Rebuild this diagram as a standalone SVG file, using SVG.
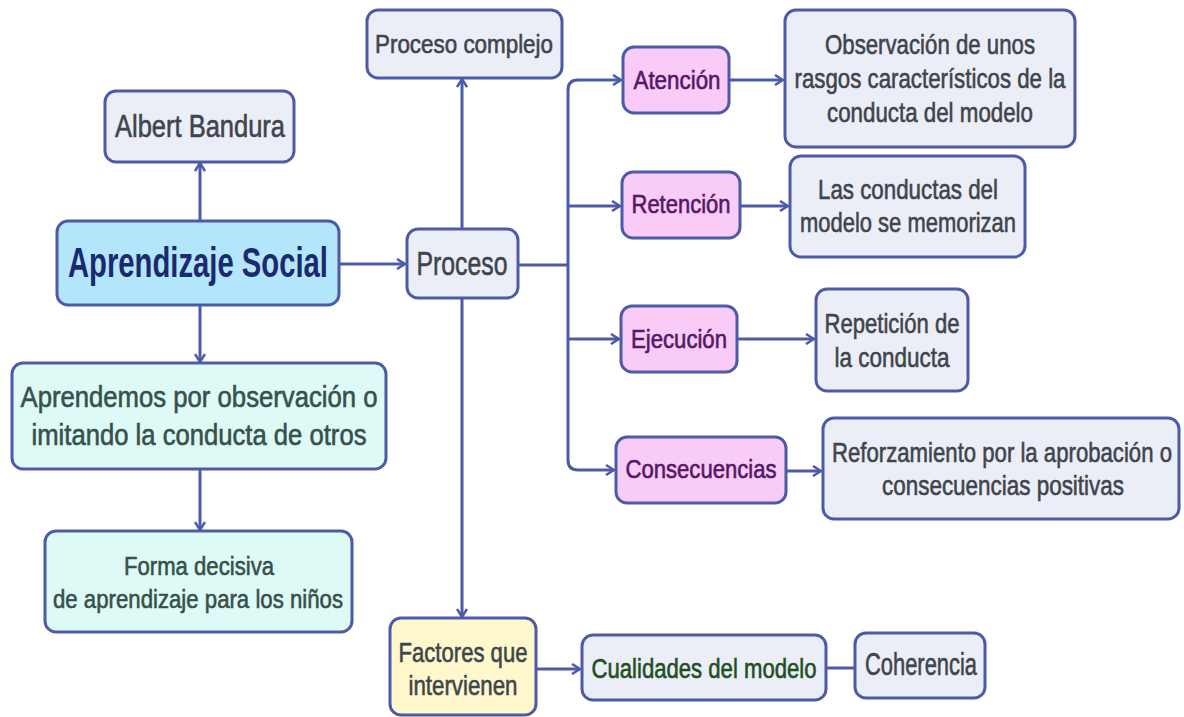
<svg xmlns="http://www.w3.org/2000/svg" width="1184" height="717" viewBox="0 0 1184 717">
<style>
.n{stroke:#4d5aa8;stroke-width:3}
.g{fill:#eceef7}
.p{fill:#f9cbf7}
.b{fill:#b3e5fb}
.c{fill:#defaf6}
.y{fill:#fff8cc}
text{font-family:"Liberation Sans Narrow","Liberation Sans",Arial,sans-serif;text-anchor:middle;stroke-width:0.6}
.tg{fill:#3e454c;stroke:#3e454c;font-size:28px}
.tp{fill:#561766;stroke:#561766;font-size:26px}
.tc{fill:#37504b;stroke:#37504b;font-size:29px}
.e{fill:none;stroke:#4d5aa8;stroke-width:3}
</style>
<defs>
<marker id="ar" viewBox="0 0 10 12" refX="9" refY="6" markerWidth="10" markerHeight="12" markerUnits="userSpaceOnUse" orient="auto">
<path d="M1,1 L9,6 L1,11" fill="none" stroke="#4d5aa8" stroke-width="2.5"/>
</marker>
</defs>
<g id="connectors">
<path class="e" d="M200,221 V163" marker-end="url(#ar)"/>
<path class="e" d="M200,306 V362" marker-end="url(#ar)"/>
<path class="e" d="M200,470 V530" marker-end="url(#ar)"/>
<path class="e" d="M339,264 H405" marker-end="url(#ar)"/>
<path class="e" d="M462,229 V79" marker-end="url(#ar)"/>
<path class="e" d="M462,298 V617" marker-end="url(#ar)"/>
<path class="e" d="M518,265 H568"/>
<path class="e" d="M568,265 V90 Q568,80 578,80 H621" marker-end="url(#ar)"/>
<path class="e" d="M568,206 H620" marker-end="url(#ar)"/>
<path class="e" d="M568,339 H619" marker-end="url(#ar)"/>
<path class="e" d="M568,265 V460 Q568,470 578,470 H614" marker-end="url(#ar)"/>
<path class="e" d="M729,80 H783" marker-end="url(#ar)"/>
<path class="e" d="M740,206 H788" marker-end="url(#ar)"/>
<path class="e" d="M737,339 H814" marker-end="url(#ar)"/>
<path class="e" d="M786,471 H821" marker-end="url(#ar)"/>
<path class="e" d="M536,669 H580" marker-end="url(#ar)"/>
<path class="e" d="M826,668 H855"/>
</g>
<g id="albert"><rect class="n g" x="105" y="91" width="189" height="71" rx="11"/><text class="tg" x="200" y="137" style="font-size:31px" textLength="170" lengthAdjust="spacingAndGlyphs">Albert Bandura</text></g>
<g id="aprendizaje"><rect class="n b" x="57" y="221" width="282" height="84" rx="11"/><text x="198" y="277" style="font-size:42px;font-weight:bold;fill:#1a2a6c;stroke:none" textLength="260" lengthAdjust="spacingAndGlyphs">Aprendizaje Social</text></g>
<g id="aprendemos"><rect class="n c" x="12" y="363" width="374" height="106" rx="11"/><text class="tc" x="199" y="407" textLength="357" lengthAdjust="spacingAndGlyphs">Aprendemos por observación o</text><text class="tc" x="199" y="445" textLength="335" lengthAdjust="spacingAndGlyphs">imitando la conducta de otros</text></g>
<g id="forma"><rect class="n c" x="45" y="531" width="307" height="101" rx="11"/><text class="tc" x="199" y="575" style="font-size:26px" textLength="150" lengthAdjust="spacingAndGlyphs">Forma decisiva</text><text class="tc" x="198" y="608" style="font-size:26px" textLength="290" lengthAdjust="spacingAndGlyphs">de aprendizaje para los niños</text></g>
<g id="complejo"><rect class="n g" x="367" y="10" width="195" height="68" rx="11"/><text class="tg" x="464" y="53" style="font-size:26px" textLength="178" lengthAdjust="spacingAndGlyphs">Proceso complejo</text></g>
<g id="proceso"><rect class="n g" x="407" y="229" width="111" height="69" rx="11"/><text class="tg" x="462" y="275" style="font-size:34px" textLength="91" lengthAdjust="spacingAndGlyphs">Proceso</text></g>
<g id="atencion"><rect class="n p" x="623" y="47" width="106" height="66" rx="11"/><text class="tp" x="677" y="89" textLength="87" lengthAdjust="spacingAndGlyphs">Atención</text></g>
<g id="retencion"><rect class="n p" x="622" y="172" width="118" height="66" rx="11"/><text class="tp" x="681" y="213" textLength="99" lengthAdjust="spacingAndGlyphs">Retención</text></g>
<g id="ejecucion"><rect class="n p" x="621" y="306" width="116" height="66" rx="11"/><text class="tp" x="679" y="348" textLength="96" lengthAdjust="spacingAndGlyphs">Ejecución</text></g>
<g id="consecuencias"><rect class="n p" x="616" y="437" width="170" height="66" rx="11"/><text class="tp" x="701" y="478" textLength="151" lengthAdjust="spacingAndGlyphs">Consecuencias</text></g>
<g id="observacion"><rect class="n g" x="785" y="10" width="290" height="137" rx="11"/><text class="tg" x="930" y="54" textLength="210" lengthAdjust="spacingAndGlyphs">Observación de unos</text><text class="tg" x="930" y="88" textLength="271" lengthAdjust="spacingAndGlyphs">rasgos característicos de la</text><text class="tg" x="930" y="122" textLength="206" lengthAdjust="spacingAndGlyphs">conducta del modelo</text></g>
<g id="memorizan"><rect class="n g" x="790" y="156" width="235" height="101" rx="11"/><text class="tg" x="908" y="199" textLength="180" lengthAdjust="spacingAndGlyphs">Las conductas del</text><text class="tg" x="908" y="232" textLength="216" lengthAdjust="spacingAndGlyphs">modelo se memorizan</text></g>
<g id="repeticion"><rect class="n g" x="816" y="289" width="152" height="102" rx="11"/><text class="tg" x="892" y="333" textLength="135" lengthAdjust="spacingAndGlyphs">Repetición de</text><text class="tg" x="892" y="367" textLength="115" lengthAdjust="spacingAndGlyphs">la conducta</text></g>
<g id="reforzamiento"><rect class="n g" x="823" y="418" width="356" height="101" rx="11"/><text class="tg" x="1002" y="462" textLength="340" lengthAdjust="spacingAndGlyphs">Reforzamiento por la aprobación o</text><text class="tg" x="1003" y="495" textLength="242" lengthAdjust="spacingAndGlyphs">consecuencias positivas</text></g>
<g id="factores"><rect class="n y" x="390" y="618" width="146" height="97" rx="11"/><text class="tg" x="463" y="662" textLength="129" lengthAdjust="spacingAndGlyphs">Factores que</text><text class="tg" x="463" y="695" textLength="109" lengthAdjust="spacingAndGlyphs">intervienen</text></g>
<g id="cualidades"><rect class="n g" x="582" y="635" width="244" height="65" rx="11"/><text x="704" y="678" style="font-size:27px;fill:#1f4f24;stroke:#1f4f24" textLength="225" lengthAdjust="spacingAndGlyphs">Cualidades del modelo</text></g>
<g id="coherencia"><rect class="n g" x="855" y="633" width="130" height="65" rx="11"/><text class="tg" x="921" y="675" style="font-size:31px" textLength="112" lengthAdjust="spacingAndGlyphs">Coherencia</text></g>
</svg>
